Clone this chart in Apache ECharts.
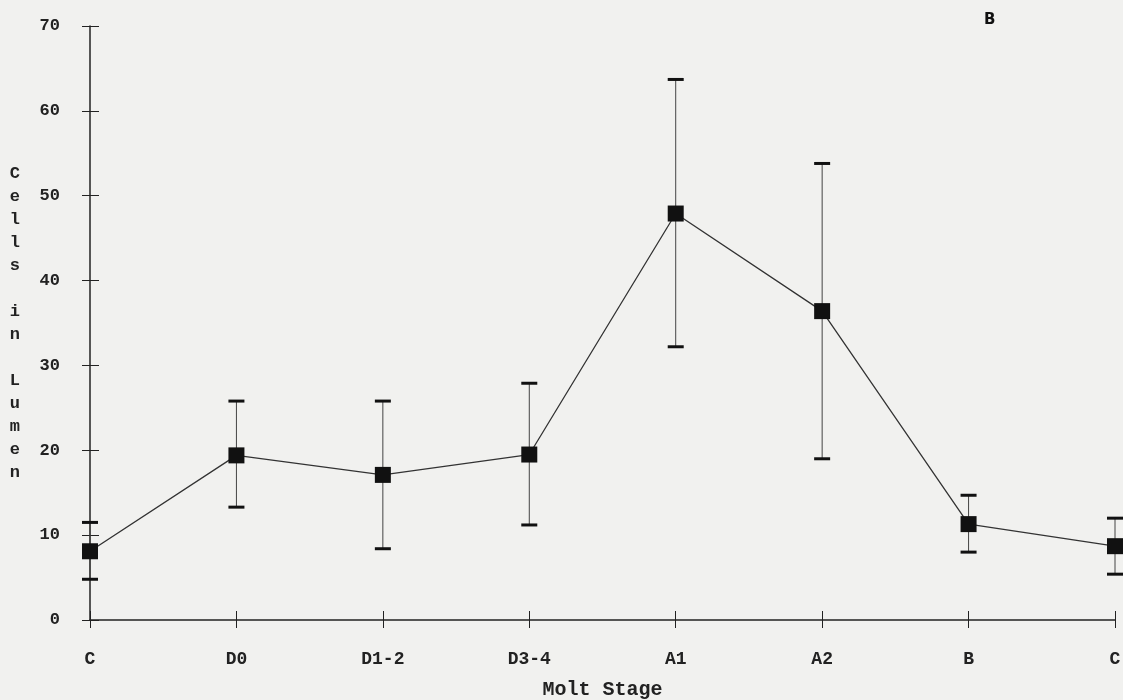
<!doctype html>
<html lang="en">
<head>
    <meta charset="UTF-8">
    <script src="https://cdn.jsdelivr.net/npm/echarts@6/dist/echarts.min.js"></script>
    <title>Molt Stage</title>
    <style>
        html, body { margin: 0; padding: 0; background: #f1f1ef; }
    </style>
</head>
<body>
<div id="chart" style="width: 1123px;height:700px;"></div>
<script>
    // data
    var stages = ['C', 'D0', 'D1-2', 'D3-4', 'A1', 'A2', 'B', 'C'];
    var means = [8.1, 19.4, 17.1, 19.5, 47.9, 36.4, 11.3, 8.7];
    var upper = [11.5, 25.8, 25.8, 27.9, 63.7, 53.8, 14.7, 12.0];
    var lower = [4.8, 13.3, 8.4, 11.2, 32.2, 19.0, 8.0, 5.4];

    var ink = '#222';
    var mono = '"Liberation Mono", "DejaVu Sans Mono", monospace';

    var errData = [];
    for (var i = 0; i < stages.length; i++) {
        errData.push([i, lower[i], upper[i]]);
    }

    var myChart = echarts.init(document.getElementById('chart'));

    var option = {
        backgroundColor: '#f1f1ef',
        animation: false,
        grid: { left: 90, right: 8, top: 26, bottom: 80, containLabel: false, outerBoundsMode: 'none' },
        title: {
            text: 'B',
            left: 979,
            top: 8,
            textStyle: { fontFamily: 'DejaVu Sans', fontWeight: 'bold', fontSize: 15, color: '#111' }
        },
        xAxis: [{
            type: 'category',
            data: stages,
            boundaryGap: false,
            position: 'bottom',
            name: 'Molt Stage',
            nameLocation: 'middle',
            nameGap: 60,
            nameTextStyle: { fontFamily: mono, fontSize: 20, fontWeight: 'bold', color: '#222' },
            axisLine: { lineStyle: { color: ink, width: 1.5 } },
            axisTick: { alignWithLabel: true, length: 8, lineStyle: { color: ink } },
            axisLabel: { margin: 30, fontFamily: mono, fontSize: 18, fontWeight: 'bold', color: '#222' },
            splitLine: { show: false }
        }, {
            type: 'category',
            data: stages,
            boundaryGap: false,
            position: 'bottom',
            axisLine: { show: false },
            axisTick: { inside: true, length: 9, lineStyle: { color: ink } },
            axisLabel: { show: false },
            splitLine: { show: false }
        }],
        yAxis: [{
            type: 'value',
            min: 0,
            max: 70,
            interval: 10,
            name: 'C\ne\nl\nl\ns\n\ni\nn\n\nL\nu\nm\ne\nn',
            nameLocation: 'middle',
            nameRotate: 0,
            nameGap: 70,
            nameTextStyle: { fontFamily: mono, fontSize: 17, fontWeight: 'bold', lineHeight: 23, color: '#222' },
            axisLine: { show: true, lineStyle: { color: ink, width: 1.5 } },
            axisTick: { show: true, length: 8, lineStyle: { color: ink } },
            axisLabel: { margin: 30, fontFamily: mono, fontSize: 17, fontWeight: 'bold', color: '#222' },
            splitLine: { show: false }
        }, {
            type: 'value',
            min: 0,
            max: 70,
            interval: 10,
            position: 'left',
            axisLine: { show: false },
            axisTick: { show: true, inside: true, length: 9, lineStyle: { color: ink } },
            axisLabel: { show: false },
            splitLine: { show: false }
        }],
        series: [
            {
                name: 'error',
                type: 'custom',
                data: errData,
                z: 2,
                renderItem: function (params, api) {
                    var x = api.value(0);
                    var lo = api.coord([x, api.value(1)]);
                    var hi = api.coord([x, api.value(2)]);
                    var hw = 8;
                    return {
                        type: 'group',
                        children: [
                            { type: 'line', shape: { x1: hi[0], y1: hi[1], x2: lo[0], y2: lo[1] }, style: { stroke: '#444', lineWidth: 1 } },
                            { type: 'line', shape: { x1: hi[0] - hw, y1: hi[1], x2: hi[0] + hw, y2: hi[1] }, style: { stroke: '#111', lineWidth: 3 } },
                            { type: 'line', shape: { x1: lo[0] - hw, y1: lo[1], x2: lo[0] + hw, y2: lo[1] }, style: { stroke: '#111', lineWidth: 3 } }
                        ]
                    };
                }
            },
            {
                name: 'mean',
                type: 'line',
                data: means,
                z: 3,
                symbol: 'rect',
                symbolSize: 16,
                itemStyle: { color: '#111' },
                lineStyle: { color: '#333', width: 1.3 }
            }
        ]
    };

    myChart.setOption(option);
</script>
</body>
</html>
